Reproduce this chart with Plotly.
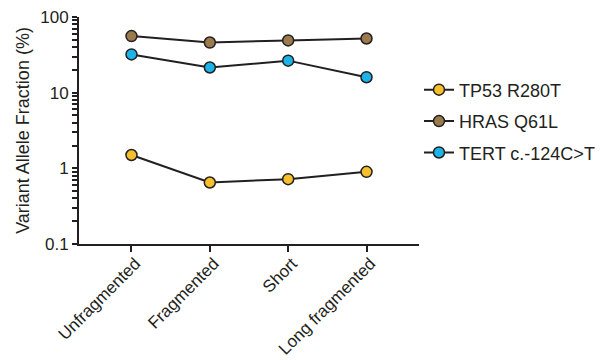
import plotly.graph_objects as go

# Sample types along the x axis
categories = ["Unfragmented", "Fragmented", "Short", "Long fragmented"]

# Variant allele fraction (%) per variant
tp53_r280t = [1.5, 0.65, 0.72, 0.9]
hras_q61l = [56, 46, 49, 52]
tert_c124 = [32, 21.5, 26.5, 16]

series = [
    ("TP53 R280T", tp53_r280t, "#F6C02C"),
    ("HRAS Q61L", hras_q61l, "#9B7A4D"),
    ("TERT c.-124C>T", tert_c124, "#1BB3E8"),
]

# Decade ticks with labels, plus 2..9 minor ticks inside each decade
major_vals = [0.1, 1, 10, 100]
major_text = ["0.1", "1", "10", "100"]
minor_vals = [round(m * d, 3) for d in (0.1, 1, 10) for m in range(2, 10)]
all_vals = major_vals + minor_vals
all_text = major_text + [" "] * len(minor_vals)

font_family = "Liberation Sans, Arial, sans-serif"
ink = "#231F20"
fs = 18
tick_fs = 17

fig = go.Figure()
for i, (name, values, color) in enumerate(series):
    fig.add_trace(go.Scatter(
        x=categories,
        y=values,
        name=name,
        legendgroup=f"g{i}",
        mode="lines+markers",
        line=dict(color=ink, width=2),
        marker=dict(size=11, color=color, line=dict(color=ink, width=1.5)),
    ))

fig.update_layout(
    width=612,
    height=360,
    margin=dict(l=79, r=189, t=17, b=116),
    paper_bgcolor="white",
    plot_bgcolor="white",
    font=dict(family=font_family, size=fs, color=ink),
    showlegend=True,
    legend=dict(
        x=1.0, xanchor="left", y=0.76, yanchor="top",
        font=dict(size=fs, color=ink),
        tracegroupgap=5,
        bgcolor="rgba(0,0,0,0)",
    ),
    xaxis=dict(
        type="category",
        range=[-0.67, 3.67],
        automargin=False,
        showline=True, linecolor=ink, linewidth=2,
        ticks="outside", ticklen=6, tickwidth=2, tickcolor=ink,
        tickangle=-45,
        ticklabelshift=4, ticklabelstandoff=-5,
        tickfont=dict(size=tick_fs, color=ink),
        showgrid=False, zeroline=False,
    ),
    yaxis=dict(
        type="log",
        range=[-1, 2],
        automargin=False,
        title=dict(text="Variant Allele Fraction (%)", font=dict(size=fs, color=ink), standoff=6),
        tickmode="array", tickvals=all_vals, ticktext=all_text,
        showline=True, linecolor=ink, linewidth=2,
        ticks="outside", ticklen=5, tickwidth=2, tickcolor=ink,
        tickfont=dict(size=tick_fs, color=ink),
        showgrid=False, zeroline=False,
    ),
)

fig.write_html("out.html")
